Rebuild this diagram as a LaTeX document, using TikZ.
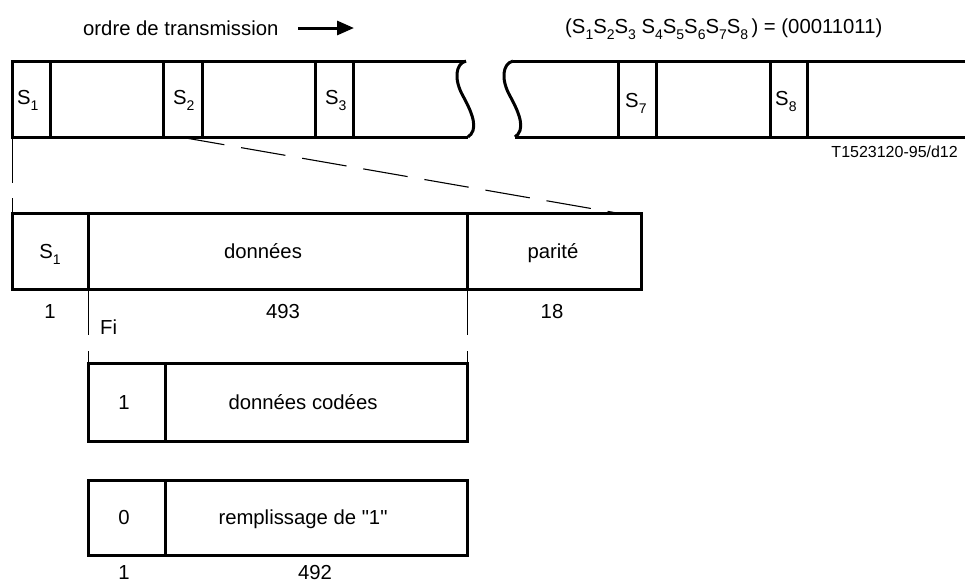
\documentclass[tikz,border=0pt]{standalone}
\usepackage{fontspec}
\setmainfont{Liberation Sans}
\usetikzlibrary{arrows.meta}
% S with a lowered index, as used in the frame labels
\newcommand\Sx[1]{S\raisebox{-0.32em}{\fontsize{14}{14}\selectfont #1}}

\begin{document}
\begin{tikzpicture}[x=1pt,y=-1pt,
  heavy/.style={line width=3pt},
  hair/.style={line width=1pt},
  lbl/.style={font=\fontsize{20.3}{24}\selectfont, inner sep=0pt},
  tag/.style={font=\fontsize{16}{19}\selectfont, inner sep=0pt},
]
\clip (0,0) rectangle (965,582);
\fill[white] (0,0) rectangle (965,582);

% ---- header ----
\node[lbl, anchor=base west] (order) at (83,35) {ordre de transmission};
\coordinate (arrA) at (298,28);
\coordinate (arrB) at (354,28);
\draw[heavy, -{Triangle[length=17pt,width=14pt]}] (arrA) -- (arrB);
\node[lbl, anchor=base west] (word) at (565,33)
  {(\Sx{1}\Sx{2}\Sx{3} \Sx{4}\Sx{5}\Sx{6}\Sx{7}\Sx{8}\,) = (00011011)};

% ---- transmitted frame, left part with break ----
\draw[heavy] (466,61) -- (12,61) -- (12,137) -- (468,137);
\draw[heavy] (466,61) .. controls (455,64) and (454,80) .. (463,96)
  .. controls (474,116) and (478,130) .. (468,137);
\foreach \x in {50,163,202,315,353} \draw[heavy] (\x,61) -- (\x,137);

% ---- transmitted frame, right part after break ----
\draw[heavy] (965,61) -- (513,61);
\draw[heavy] (515,137) -- (965,137);
\draw[heavy] (513,61) .. controls (502,64) and (501,80) .. (510,96)
  .. controls (521,116) and (525,130) .. (515,137);
\foreach \x in {618,656,770,807} \draw[heavy] (\x,61) -- (\x,137);

\node[lbl, anchor=base west] (t1) at (17,104) {\Sx{1}};
\node[lbl, anchor=base west] (t2) at (173,104) {\Sx{2}};
\node[lbl, anchor=base west] (t3) at (325,104) {\Sx{3}};
\node[lbl, anchor=base west] (t7) at (625,107) {\Sx{7}};
\node[lbl, anchor=base west] (t8) at (775,105) {\Sx{8}};

\node[tag, anchor=base east] (ref) at (958,157) {T1523120-95/d12};

% ---- expanded block ----
\draw[heavy] (12,213) rectangle (641,289);
\draw[heavy] (88,213) -- (88,289);
\draw[heavy] (467,213) -- (467,289);
\node[lbl, anchor=base] (bs1) at (50,258) {\Sx{1}};
\node[lbl, anchor=base] (bdata) at (263,258) {données};
\node[lbl, anchor=base] (bpar) at (553,258) {parité};

\node[lbl, anchor=base] (n1) at (50,318) {1};
\node[lbl, anchor=base] (n493) at (283,318) {493};
\node[lbl, anchor=base] (n18) at (552,318) {18};
\node[lbl, anchor=base west] (fi) at (100,334) {Fi};

% zoom guides
\coordinate (s2foot) at (180,137);
\coordinate (parTR) at (617,213);
\draw[line width=1.1pt, dash pattern=on 45pt off 17pt] (s2foot) -- (parTR);
\draw[hair] (12,137) -- (12,183);
\draw[hair] (12,198) -- (12,213);
\foreach \x in {88,467} {
  \draw[hair] (\x,289) -- (\x,335);
  \draw[hair] (\x,351) -- (\x,363);
}

% ---- Fi variants ----
\draw[heavy] (88,363) rectangle (467,441);
\draw[heavy] (165,363) -- (165,441);
\node[lbl, anchor=base] (c1) at (124,409) {1};
\node[lbl, anchor=base] (cdata) at (303,409) {données codées};

\draw[heavy] (88,480) rectangle (467,555);
\draw[heavy] (165,480) -- (165,555);
\node[lbl, anchor=base] (c0) at (124,524) {0};
\node[lbl, anchor=base] (cfill) at (303,524)
  {remplissage de \textquotedbl 1\textquotedbl};

\node[lbl, anchor=base] (w1) at (124,579) {1};
\node[lbl, anchor=base] (w492) at (315,579) {492};
\end{tikzpicture}
\end{document}
